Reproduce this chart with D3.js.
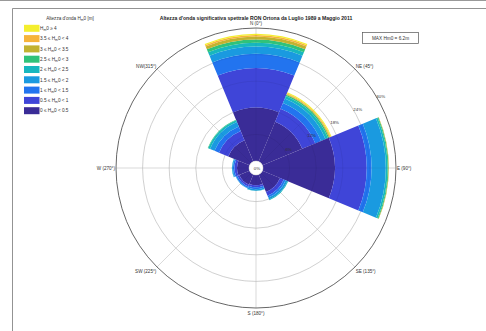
<!DOCTYPE html>
<html><head><meta charset="utf-8">
<script src="https://cdn.jsdelivr.net/npm/d3@7"></script>
<style>
html,body{margin:0;padding:0;background:#fff;}
svg{display:block;font-family:"Liberation Sans",Arial,sans-serif;}
</style></head>
<body><svg id="c" width="486" height="331"></svg>
<script>
// ---------- data ----------
const directions = ["N","NE","E","SE","S","SW","W","NW"];
const bearings = [0,45,90,135,180,225,270,315];
const dirLabels = ["N (0°)","NE (45°)","E (90°)","SE (135°)","S (180°)","SW (225°)","W (270°)","NW(315°)"];
// frequency (%) per wave-height class, one value per direction (N, NE, E, SE, S, SW, W, NW)
const h0_05  = [12.0, 9.7, 16.2, 4.3, 2.3, 2.5, 2.7, 5.2];
const h05_1  = [9.0, 3.2, 7.2, 0.9, 0.45, 0.45, 0.55, 2.25];
const h1_15  = [3.2, 1.4, 1.1, 0.45, 0.45, 0.35, 0.35, 1.1];
const h15_2  = [1.6, 1.1, 3.2, 0.45, 0.35, 0.1, 0.2, 1.1];
const h2_25  = [0.9, 0.6, 0.4, 0.2, 0.05, 0.0, 0.05, 0.45];
const h25_3  = [0.7, 0.3, 0.2, 0.0, 0.0, 0.0, 0.0, 0.1];
const h3_35  = [0.7, 0.2, 0.1, 0.0, 0.0, 0.0, 0.0, 0.0];
const h35_4  = [0.3, 0.2, 0.0, 0.0, 0.0, 0.0, 0.0, 0.0];
const h4     = [0.3, 0.2, 0.0, 0.0, 0.0, 0.0, 0.0, 0.0];
const classLow = ["0","0.5","1","1.5","2","2.5","3","3.5","4"];
const classHigh = ["0.5","1","1.5","2","2.5","3","3.5","4",null];
const classColors = ["#3a2c97","#3f45d8","#2274ef","#1a9ae0","#17b7bf","#30c27a","#c2b230","#f6b43a","#f4ee2e"];
const ringTicks = [6,12,18,24,30];
const title = "Altezza d'onda significativa spettrale RON Ortona da Luglio 1989 a Maggio 2011";
const legendTitle = "Altezza d'onda H";
const maxText = "MAX Hm0 = 6.2m";

const series = [h0_05,h05_1,h1_15,h15_2,h2_25,h25_3,h3_35,h35_4,h4];

// ---------- drawing ----------
const svg = d3.select("#c");
const cx = 256, cy = 168, R = 140, r0 = 7;
const rScale = d3.scaleLinear().domain([0,30]).range([r0,R]);
const rad = d => d*Math.PI/180;

// figure frame
svg.append("line").attr("x1",0).attr("x2",486).attr("y1",0.5).attr("y2",0.5).attr("stroke","#999");
svg.append("path").attr("d","M12.5,331 V8.5 H486").attr("fill","none").attr("stroke","#777").attr("stroke-width",0.8);

const g = svg.append("g").attr("transform",`translate(${cx},${cy})`);

// grid underneath
const grid = g.append("g");
ringTicks.slice(0,-1).forEach(t=>{
  grid.append("circle").attr("r",rScale(t)).attr("fill","none").attr("stroke","#d4d4d4").attr("stroke-width",0.8);
});
bearings.forEach(b=>{
  grid.append("line")
    .attr("x1",r0*Math.sin(rad(b))).attr("y1",-r0*Math.cos(rad(b)))
    .attr("x2",R*Math.sin(rad(b))).attr("y2",-R*Math.cos(rad(b)))
    .attr("stroke","#dcdcdc").attr("stroke-width",0.8);
});

// stacked bars
const stackData = [];
directions.forEach((d,i)=>{
  let cum = 0;
  series.forEach((s,k)=>{
    stackData.push({dir:d, b:bearings[i], k, y0:cum, y1:cum+s[i]});
    cum += s[i];
  });
});
const arc = d3.arc()
  .innerRadius(d=>rScale(d.y0))
  .outerRadius(d=>rScale(d.y1))
  .startAngle(d=>rad(d.b-22.5))
  .endAngle(d=>rad(d.b+22.5));
g.append("g").selectAll("path").data(stackData.filter(d=>d.y1>d.y0)).join("path")
  .attr("d",arc).attr("fill",d=>classColors[d.k]);

// faint grid over bars
const og = g.append("g");
ringTicks.slice(0,-1).forEach(t=>{
  og.append("circle").attr("r",rScale(t)).attr("fill","none").attr("stroke","rgba(0,0,0,0.07)").attr("stroke-width",0.8);
});
bearings.forEach(b=>{
  og.append("line")
    .attr("x1",r0*Math.sin(rad(b))).attr("y1",-r0*Math.cos(rad(b)))
    .attr("x2",R*Math.sin(rad(b))).attr("y2",-R*Math.cos(rad(b)))
    .attr("stroke","rgba(0,0,0,0.06)").attr("stroke-width",0.8);
});
// outer circle
g.append("circle").attr("r",R).attr("fill","none").attr("stroke","#555").attr("stroke-width",0.9);
// center hole
g.append("circle").attr("r",r0).attr("fill","#fff").attr("stroke","#ccc").attr("stroke-width",0.5);
g.append("text").attr("x",1).attr("y",1.5).attr("text-anchor","middle").attr("font-size",4.4).attr("fill","#333").text("0%");

// ring labels at 60°
ringTicks.forEach(t=>{
  const rr = rScale(t)+4;
  g.append("text").attr("x",rr*Math.sin(rad(60))).attr("y",-rr*Math.cos(rad(60))+1.5)
    .attr("text-anchor","middle").attr("font-size",4.4).attr("fill","#333").text(t+"%");
});

// direction labels
bearings.forEach((b,i)=>{
  const s = Math.sin(rad(b)), c = Math.cos(rad(b));
  let x = (R+1)*s, y = -(R+1)*c;
  let anchor = s>0.1?"start":(s<-0.1?"end":"middle");
  if (Math.abs(s)<0.1) { y += c>0 ? -2 : 5.5; }
  else if (Math.abs(c)<0.1) { y += 1.5; }
  else { y += c>0 ? 0 : 5; }
  g.append("text").attr("x",x).attr("y",y).attr("text-anchor",anchor)
    .attr("font-size",4.6).attr("fill","#333").text(dirLabels[i]);
});

// title
svg.append("text").attr("x",256).attr("y",19.5).attr("text-anchor","middle")
  .attr("font-size",5.1).attr("font-weight","bold").attr("fill","#222").text(title);

// legend
const lt = svg.append("text").attr("x",70).attr("y",19.5).attr("text-anchor","middle").attr("font-size",4.6).attr("fill","#333");
lt.append("tspan").text(legendTitle);
lt.append("tspan").attr("font-size",3.4).attr("dy",1).text("m");
lt.append("tspan").attr("dy",-1).text("0 [m]");

const order = d3.range(series.length).reverse();
order.forEach((k,row)=>{
  const y = 24.8 + row*10.3;
  svg.append("rect").attr("x",24).attr("y",y).attr("width",15.5).attr("height",7).attr("fill",classColors[k]);
  const t = svg.append("text").attr("x",40).attr("y",y+5.2).attr("font-size",4.7).attr("fill","#333");
  if (classHigh[k]===null) {
    t.append("tspan").text("H");
    t.append("tspan").attr("font-size",3.4).attr("dy",1).text("m");
    t.append("tspan").attr("dy",-1).text("0 ≥ "+classLow[k]);
  } else {
    t.append("tspan").text(classLow[k]+" ≤ H");
    t.append("tspan").attr("font-size",3.4).attr("dy",1).text("m");
    t.append("tspan").attr("dy",-1).text("0 < "+classHigh[k]);
  }
});

// MAX box
svg.append("rect").attr("x",362.5).attr("y",32.5).attr("width",56).attr("height",11)
  .attr("fill","#fff").attr("stroke","#555").attr("stroke-width",0.7);
svg.append("text").attr("x",390.5).attr("y",39.8).attr("text-anchor","middle").attr("font-size",4.7).attr("fill","#333").text(maxText);
</script>
</body></html>
